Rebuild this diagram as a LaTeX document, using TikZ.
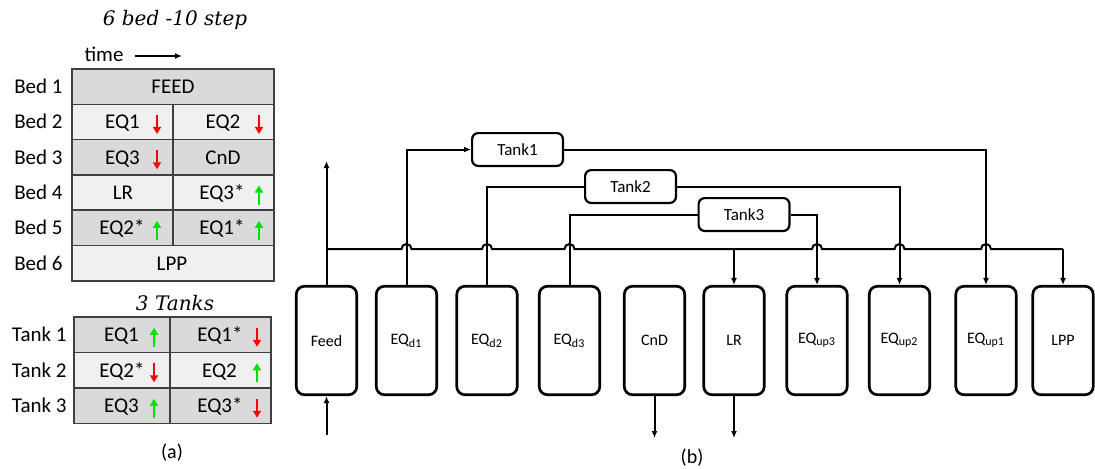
\documentclass[tikz,border=0pt]{standalone}
\usepackage{fontspec}
\setmainfont{Carlito}
\newfontfamily\psaserif{DejaVu Serif}
\usetikzlibrary{arrows.meta}
\definecolor{psaDark}{HTML}{DADADA}
\definecolor{psaLight}{HTML}{F0F0F0}
\definecolor{psaEdge}{HTML}{404040}
\definecolor{psaRed}{HTML}{FF0000}
\definecolor{psaGreen}{HTML}{00E000}
\tikzset{
  psa grid/.style={draw=psaEdge, line width=0.8pt},
  psa cell/.style={font=\fontsize{10.5}{12}\selectfont, anchor=base, inner sep=0pt},
  psa row label/.style={font=\fontsize{10.5}{12}\selectfont, anchor=base east, inner sep=0pt},
  psa title/.style={font=\psaserif\itshape\fontsize{10}{12}\selectfont},
  psa caption/.style={font=\fontsize{10}{12}\selectfont},
  psa down/.style={draw=psaRed, line width=1.2pt, -{Triangle[length=3.5pt,width=4pt]}},
  psa up/.style={draw=psaGreen, line width=1.2pt, {Triangle[length=3.5pt,width=4pt]}-},
  psa box/.style={draw, line width=1.35pt, rounded corners=4pt, minimum width=30.2pt, minimum height=54.2pt, inner sep=0pt, font=\fontsize{8}{10}\selectfont},
  psa tank/.style={draw, line width=1.1pt, rounded corners=3pt, minimum width=45.4pt, minimum height=16.4pt, inner sep=0pt, font=\fontsize{8.5}{10}\selectfont},
  psa line/.style={line width=1pt},
  psa flow/.style={psa line, -{Latex[length=3.5pt,width=3pt]}},
}

\begin{document}
\begin{tikzpicture}[x=0.5pt,y=0.5pt]
  \useasboundingbox (0,0) rectangle (1095,468);

  % (a) step table of the six beds
  \node[psa title] (bedtitle) at (175,448) {6 bed -10 step};
  \node[psa cell] (time) at (104,407) {time};
  \coordinate (timeA) at (135,412);
  \coordinate (timeB) at (182,412);
  \draw[line width=0.8pt, -{Latex[length=3.5pt,width=3pt]}] (timeA) -- (timeB);
  \foreach \r/\c in {1/psaDark,2/psaLight,3/psaDark,4/psaLight,5/psaDark,6/psaLight}
    \fill[\c] (72,{399-35.3*\r}) rectangle (274,{399-35.3*(\r-1)});
  \foreach \r in {1,...,5} \draw[psa grid] (72,{399-35.3*\r}) -- (274,{399-35.3*\r});
  \draw[psa grid] (173,{399-35.3}) -- (173,{399-35.3*5});
  \draw[psa grid] (72,187.2) rectangle (274,399);
  \foreach \r in {1,...,6}
    \node[psa row label] (bed\r) at (63,{374.35-35.3*(\r-1)}) {Bed \r};
  \foreach \n/\x/\r/\t in {bfeed/173/1/FEED, beqa/122.5/2/EQ1, beqb/223/2/EQ2,
      beqc/122.5/3/EQ3, bcnd/223/3/CnD, blr/123/4/LR, beqcs/222/4/EQ3*,
      beqbs/122/5/EQ2*, beqas/222/5/EQ1*, blpp/172/6/LPP}
    \node[psa cell] (\n) at (\x,{374.35-35.3*(\r-1)}) {\t};
  \foreach \x/\r/\s in {157/2/psa down, 259/2/psa down, 157/3/psa down,
      259/4/psa up, 157/5/psa up, 259/5/psa up}
    \draw[\s] (\x,{388.35-35.3*(\r-1)}) -- (\x,{369.35-35.3*(\r-1)});

  % (a) tank table
  \node[psa title] (tanktitle) at (175,165) {3 Tanks};
  \foreach \r/\c in {1/psaDark,2/psaLight,3/psaDark}
    \fill[\c] (74,{151-35.5*\r}) rectangle (271,{151-35.5*(\r-1)});
  \foreach \r in {1,2} \draw[psa grid] (74,{151-35.5*\r}) -- (271,{151-35.5*\r});
  \draw[psa grid] (170,44.5) -- (170,151);
  \draw[psa grid] (74,44.5) rectangle (271,151);
  \foreach \r in {1,2,3}
    \node[psa row label] (tank\r lab) at (67,{126.25-35.5*(\r-1)}) {Tank \r};
  \foreach \n/\x/\r/\t in {teqa/121.5/1/EQ1, teqas/220/1/EQ1*, teqbs/122/2/EQ2*,
      teqb/219.5/2/EQ2, teqc/121.5/3/EQ3, teqcs/220/3/EQ3*}
    \node[psa cell] (\n) at (\x,{126.25-35.5*(\r-1)}) {\t};
  \foreach \x/\r/\s in {154/1/psa up, 257/1/psa down, 154/2/psa down,
      257/2/psa up, 154/3/psa up, 257/3/psa down}
    \draw[\s] (\x,{140.25-35.5*(\r-1)}) -- (\x,{121.25-35.5*(\r-1)});
  \node[psa caption] (capa) at (172,15) {(a)};

  % (b) beds and tanks
  \foreach \n/\x/\t in {feed/326.5/Feed, eqd1/406.5/EQ\textsubscript{d1},
      eqd2/487/EQ\textsubscript{d2}, eqd3/569.5/EQ\textsubscript{d3},
      cnd/654.5/CnD, lr/734/LR, equp3/817/EQ\textsubscript{up3},
      equp2/899.5/EQ\textsubscript{up2}, equp1/986/EQ\textsubscript{up1},
      lpp/1063/LPP}
    \node[psa box] (\n) at (\x,127.5) {\t};
  \node[psa tank] (tank1) at (517.5,318.5) {Tank1};
  \node[psa tank] (tank2) at (630.5,281.5) {Tank2};
  \node[psa tank] (tank3) at (744,253.5) {Tank3};

  \coordinate (bus) at (0,219);
  \coordinate (feedout) at (326.5,307);
  \coordinate (feedin) at (326.5,33);
  \coordinate (cndout) at (654.5,30);
  \coordinate (lrout) at (734,30);

  % header line, hopping over the tank lines
  \draw[psa line] (feed.north |- bus)
    foreach \n in {eqd1,eqd2,eqd3,equp3,equp2,equp1} {
      -- ([xshift=-2.5pt]\n.north |- bus) arc[start angle=180, end angle=0, radius=2.5pt]
    } -- (lpp.north |- bus);

  \draw[psa flow] (feed.north) -- (feedout);
  \draw[psa flow] (feedin) -- (feed.south);
  \draw[psa flow] (eqd1.north) |- (tank1.west);
  \draw[psa line] (eqd2.north) |- (tank2.west);
  \draw[psa line] (eqd3.north) |- (tank3.west);
  \draw[psa flow] (tank1.east) -| (equp1.north);
  \draw[psa flow] (tank2.east) -| (equp2.north);
  \draw[psa flow] (tank3.east) -| (equp3.north);
  \draw[psa flow] (lr.north |- bus) -- (lr.north);
  \draw[psa flow] (lpp.north |- bus) -- (lpp.north);
  \draw[psa flow] (cnd.south) -- (cndout);
  \draw[psa flow] (lr.south) -- (lrout);
  \node[psa caption] (capb) at (692,10) {(b)};
\end{tikzpicture}
\end{document}
